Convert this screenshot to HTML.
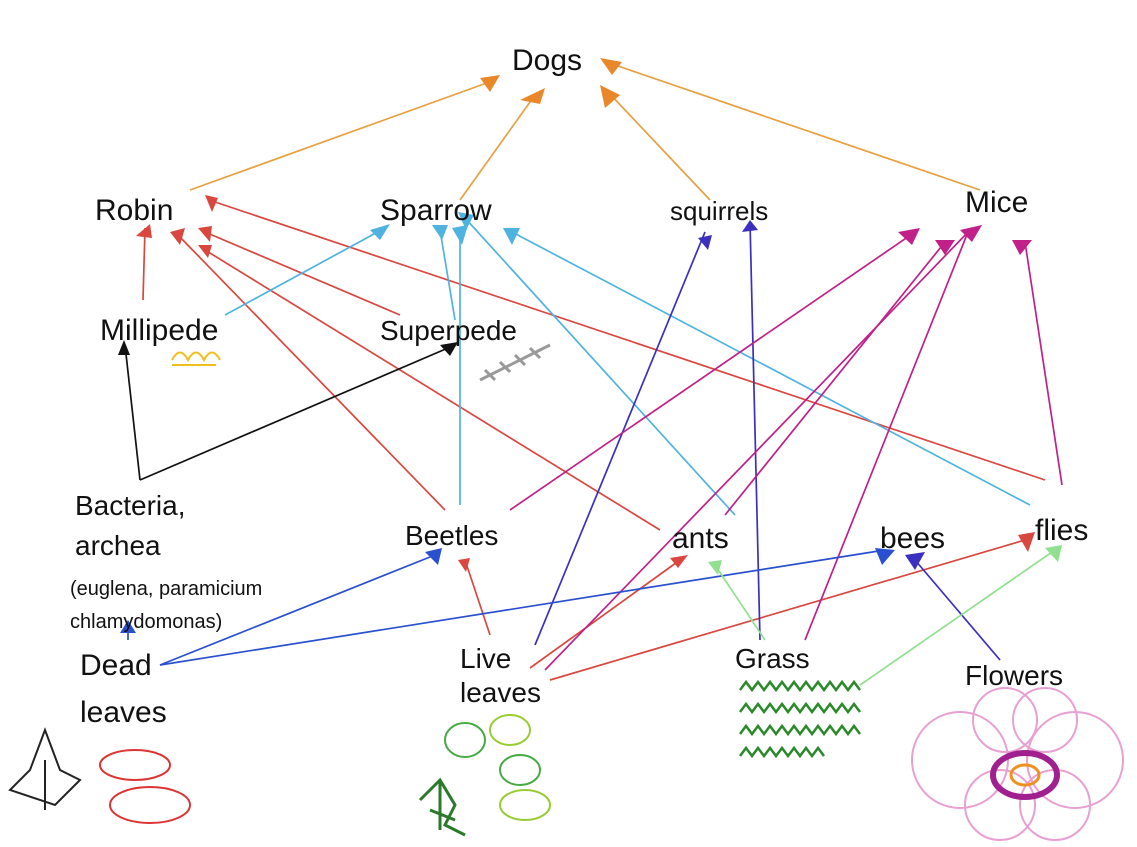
<!DOCTYPE html>
<html><head><meta charset="utf-8"><style>
html,body{margin:0;padding:0;background:#fff;}
svg{display:block}
text{font-family:"Liberation Sans",sans-serif;font-size:30px;fill:#111;}
</style></head><body>
<svg width="1137" height="847" viewBox="0 0 1137 847" xmlns="http://www.w3.org/2000/svg">
<g stroke-width="1.7" fill="none">
<g stroke="#e8a040">
<line x1="190" y1="190" x2="495" y2="80"/><line x1="460" y1="200" x2="535" y2="95"/>
<line x1="710" y1="200" x2="608" y2="92"/><line x1="980" y1="190" x2="615" y2="65"/>
</g>
<g stroke="#d9473f">
<line x1="143" y1="300" x2="145" y2="228"/><line x1="445" y1="510" x2="178" y2="235"/>
<line x1="400" y1="315" x2="205" y2="232"/><line x1="660" y1="530" x2="205" y2="250"/>
<line x1="1045" y1="480" x2="215" y2="202"/>
<line x1="490" y1="635" x2="465" y2="560"/><line x1="530" y1="668" x2="680" y2="560"/>
<line x1="550" y1="680" x2="1025" y2="540"/>
</g>
<g stroke="#4fb3e0">
<line x1="225" y1="315" x2="385" y2="228"/><line x1="460" y1="505" x2="460" y2="232"/>
<line x1="455" y1="320" x2="440" y2="230"/><line x1="735" y1="515" x2="465" y2="218"/>
<line x1="1030" y1="505" x2="512" y2="232"/>
</g>
<g stroke="#111">
<line x1="140" y1="480" x2="125" y2="345"/><line x1="140" y1="480" x2="455" y2="345"/>
</g>
<g stroke="#3b2fc0">
<line x1="535" y1="645" x2="705" y2="232"/><line x1="760" y1="640" x2="750" y2="222"/>
<line x1="1000" y1="660" x2="915" y2="560"/>
</g>
<g stroke="#c02088">
<line x1="510" y1="510" x2="915" y2="232"/><line x1="725" y1="515" x2="945" y2="242"/>
<line x1="545" y1="670" x2="972" y2="228"/><line x1="805" y1="640" x2="968" y2="232"/>
<line x1="1062" y1="485" x2="1025" y2="242"/>
</g>
<g stroke="#2a50d0">
<line x1="160" y1="665" x2="435" y2="555"/><line x1="160" y1="665" x2="885" y2="550"/>
<line x1="128" y1="640" x2="128" y2="625"/>
</g>
<g stroke="#90e090">
<line x1="765" y1="640" x2="715" y2="565"/><line x1="860" y1="685" x2="1055" y2="550"/>
</g>
</g>
<g>
<polygon points="480,78 500,75 490,92" fill="#e8882a"/><polygon points="520,100 545,88 540,104" fill="#e8882a"/>
<polygon points="600,85 620,95 605,108" fill="#e8882a"/><polygon points="600,58 622,62 612,75" fill="#e8882a"/>
<polygon points="136,236 150,224 152,238" fill="#d9473f"/><polygon points="170,232 185,228 180,245" fill="#d9473f"/>
<polygon points="198,228 212,226 210,242" fill="#d9473f"/><polygon points="198,245 212,245 208,258" fill="#d9473f"/>
<polygon points="205,195 218,198 212,212" fill="#d9473f"/>
<polygon points="458,560 470,558 466,572" fill="#d9473f"/><polygon points="670,558 688,555 678,568" fill="#d9473f"/>
<polygon points="1018,535 1035,532 1028,552" fill="#d9473f"/>
<polygon points="370,230 390,224 380,240" fill="#4fb3e0"/><polygon points="452,228 468,225 462,245" fill="#4fb3e0"/>
<polygon points="432,225 448,225 442,240" fill="#4fb3e0"/><polygon points="458,212 474,215 466,230" fill="#4fb3e0"/>
<polygon points="503,228 520,228 512,245" fill="#4fb3e0"/>
<polygon points="118,355 130,355 124,340" fill="#111"/><polygon points="440,345 458,342 450,356" fill="#111"/>
<polygon points="698,238 712,235 708,250" fill="#3b2fc0"/><polygon points="742,232 758,230 750,220" fill="#3b2fc0"/>
<polygon points="905,555 925,552 915,570" fill="#3b2fc0"/>
<polygon points="898,232 920,228 912,245" fill="#c02088"/><polygon points="935,240 955,240 945,255" fill="#c02088"/>
<polygon points="960,230 982,225 972,242" fill="#c02088"/><polygon points="1012,240 1032,240 1020,255" fill="#c02088"/>
<polygon points="425,552 442,548 438,565" fill="#2a50d0"/><polygon points="875,548 895,550 882,565" fill="#2a50d0"/>
<polygon points="120,633 136,633 128,620" fill="#2a50d0"/>
<polygon points="708,562 722,560 718,575" fill="#90e090"/><polygon points="1045,548 1062,545 1058,562" fill="#90e090"/>
</g>
<text x="512" y="70">Dogs</text>
<text x="95" y="220">Robin</text>
<text x="380" y="220">Sparrow</text>
<text x="670" y="220" style="font-size:26px">squirrels</text>
<text x="965" y="212">Mice</text>
<text x="100" y="340">Millipede</text>
<text x="380" y="340" style="font-size:28px">Superpede</text>
<text x="75" y="515" style="font-size:28px">Bacteria,</text>
<text x="75" y="555" style="font-size:28px">archea</text>
<text x="70" y="595" style="font-size:20px">(euglena, paramicium</text>
<text x="70" y="628" style="font-size:20px">chlamydomonas)</text>
<text x="405" y="545" style="font-size:28px">Beetles</text>
<text x="672" y="548">ants</text>
<text x="880" y="548">bees</text>
<text x="1035" y="540">flies</text>
<text x="80" y="675">Dead</text>
<text x="80" y="722">leaves</text>
<text x="460" y="668" style="font-size:28px">Live</text>
<text x="460" y="702" style="font-size:28px">leaves</text>
<text x="735" y="668" style="font-size:28px">Grass</text>
<text x="965" y="685" style="font-size:28px">Flowers</text>
<g fill="none" stroke-width="2">
<path d="M172,360 q8,-15 16,0 q8,-15 16,0 q8,-15 16,0 M172,365 h44" stroke="#f0c020"/>
<path d="M480,380 l70,-35 M485,370 l10,10 M500,362 l10,10 M515,355 l10,10 M530,348 l10,10" stroke="#999" stroke-width="3"/>
<path d="M10,790 l20,-20 l15,-40 l15,40 l20,10 l-25,25 z M45,760 v50" stroke="#222"/>
<ellipse cx="135" cy="765" rx="35" ry="15" stroke="#d33"/><ellipse cx="150" cy="805" rx="40" ry="18" stroke="#d33"/>
<ellipse cx="465" cy="740" rx="20" ry="17" stroke="#4a4"/><ellipse cx="510" cy="730" rx="20" ry="15" stroke="#9c3"/>
<ellipse cx="520" cy="770" rx="20" ry="15" stroke="#4a4"/><ellipse cx="525" cy="805" rx="25" ry="15" stroke="#9c3"/>
<path d="M420,800 l20,-20 l15,25 l-10,20 l20,10 M440,780 v50 M430,810 l25,10" stroke="#2a7a2a" stroke-width="3"/>
<path d="M740,690 l6,-8 l6,8 l6,-8 l6,8 l6,-8 l6,8 l6,-8 l6,8 l6,-8 l6,8 l6,-8 l6,8 l6,-8 l6,8 l6,-8 l6,8 l6,-8 l6,8 l6,-8 l6,8 M740,712 l6,-8 l6,8 l6,-8 l6,8 l6,-8 l6,8 l6,-8 l6,8 l6,-8 l6,8 l6,-8 l6,8 l6,-8 l6,8 l6,-8 l6,8 l6,-8 l6,8 l6,-8 l6,8 M740,734 l6,-8 l6,8 l6,-8 l6,8 l6,-8 l6,8 l6,-8 l6,8 l6,-8 l6,8 l6,-8 l6,8 l6,-8 l6,8 l6,-8 l6,8 l6,-8 l6,8 l6,-8 l6,8 M740,756 l6,-8 l6,8 l6,-8 l6,8 l6,-8 l6,8 l6,-8 l6,8 l6,-8 l6,8 l6,-8 l6,8 l6,-8 l6,8" stroke="#2a8a2a" stroke-width="2.5"/>
<circle cx="960" cy="760" r="48" stroke="#e8a0d0"/><circle cx="1075" cy="760" r="48" stroke="#e8a0d0"/>
<circle cx="1005" cy="720" r="32" stroke="#e8a0d0"/><circle cx="1045" cy="720" r="32" stroke="#e8a0d0"/>
<circle cx="1000" cy="805" r="35" stroke="#e8a0d0"/><circle cx="1055" cy="805" r="35" stroke="#e8a0d0"/>
<ellipse cx="1025" cy="775" rx="32" ry="22" stroke="#a02090" stroke-width="6"/>
<ellipse cx="1025" cy="775" rx="14" ry="10" stroke="#f09020" stroke-width="3"/>
</g>
</svg>
</body></html>
